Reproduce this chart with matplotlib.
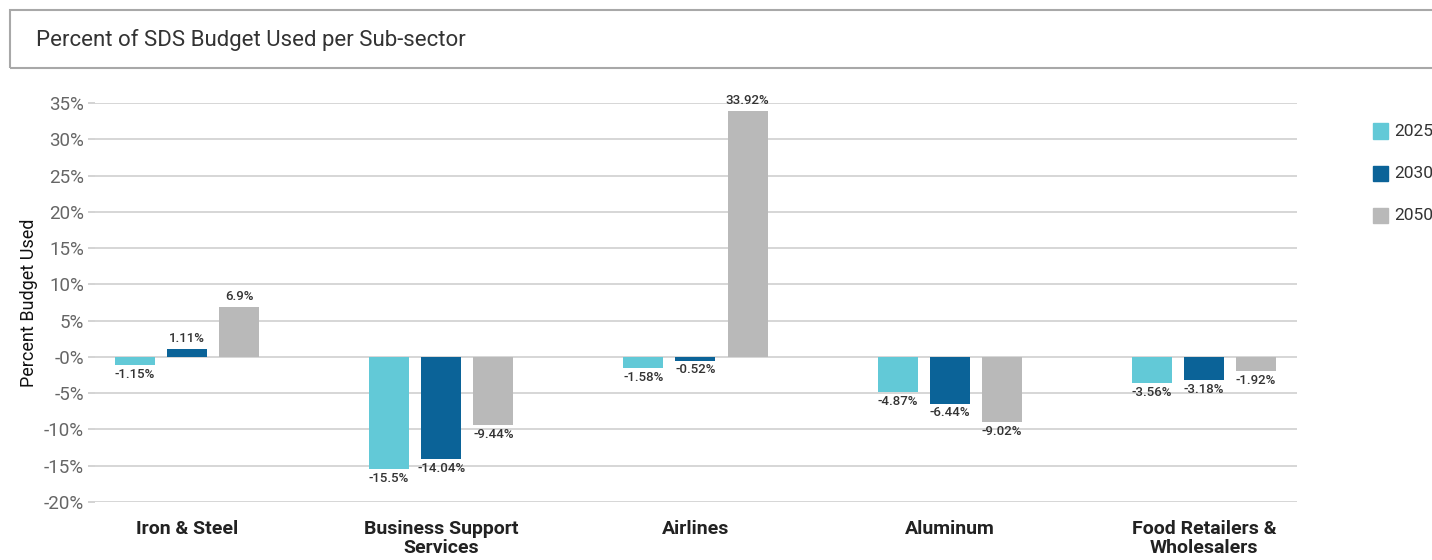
import numpy as np
import matplotlib.pyplot as plt
from matplotlib.patches import Rectangle

plt.rcParams["font.family"] = ["Roboto", "DejaVu Sans"]

categories = ["Iron & Steel", "Business Support\nServices", "Airlines", "Aluminum",
              "Food Retailers &\nWholesalers"]
years = ["2025", "2030", "2050"]
v2025 = [-1.15, -15.5, -1.58, -4.87, -3.56]
v2030 = [1.11, -14.04, -0.52, -6.44, -3.18]
v2050 = [6.9, -9.44, 33.92, -9.02, -1.92]
colors = ["#62c9d7", "#0b6398", "#b9b9b9"]
yticks = [35, 30, 25, 20, 15, 10, 5, 0, -5, -10, -15, -20]

fig = plt.figure(figsize=(14.32, 5.6), dpi=100)
ax = fig.add_axes([0.0663, 0.1036, 0.8394, 0.7124])

x = np.arange(len(categories))
w = 0.157
step = 0.205
for i, (vals, c) in enumerate(zip([v2025, v2030, v2050], colors)):
    xs = x + (i - 1) * step
    ax.bar(xs, vals, width=w, color=c, zorder=3)
    for xi, v in zip(xs, vals):
        txt = f"{v:g}%"
        if v >= 0:
            ax.annotate(txt, (xi, v), xytext=(0, 3), textcoords="offset points",
                        ha="center", va="bottom", fontsize=9.5, color="#333333",
                        fontweight="medium")
        else:
            ax.annotate(txt, (xi, v), xytext=(0, -2), textcoords="offset points",
                        ha="center", va="top", fontsize=9.5, color="#333333",
                        fontweight="medium")

ax.set_xlim(-0.362, 4.366)
ax.set_ylim(-20, 35)
ax.set_yticks(yticks)
ax.set_yticklabels(["-0%" if t == 0 else f"{t}%" for t in yticks],
                   fontsize=13.5, color="#666666")
ax.set_xticks(x)
ax.set_xticklabels(categories, fontsize=14, fontweight="bold", color="#222222",
                   va="top", linespacing=1.05)
ax.tick_params(axis="x", length=0, pad=13)
ax.tick_params(axis="y", length=5, color="#cccccc", width=1.2, pad=3)
ax.grid(axis="y", color="#d0d0d0", linewidth=1.2, zorder=0)
for s in ax.spines.values():
    s.set_visible(False)
ax.set_ylabel("Percent Budget Used", fontsize=13, color="#111111", labelpad=4)

# title box
fig.patches.append(Rectangle((0.007, 0.8786), 1.5, 0.1036, transform=fig.transFigure,
                             fill=False, edgecolor="#a8a8a8", linewidth=1.5))
fig.text(0.025, 0.929, "Percent of SDS Budget Used per Sub-sector", fontsize=16,
         color="#333333", va="center", ha="left")

# legend at the right edge
for i, (yr, c) in enumerate(zip(years, colors)):
    yc = 1 - (131 + i * 42.5) / 560
    fig.patches.append(Rectangle((1373 / 1432, yc - 7.5 / 560), 15 / 1432, 15 / 560,
                                 transform=fig.transFigure, color=c))
    fig.text(1394 / 1432, yc, yr, fontsize=12.5, color="#333333", va="center", ha="left")

fig.savefig("out.png", dpi=100)
